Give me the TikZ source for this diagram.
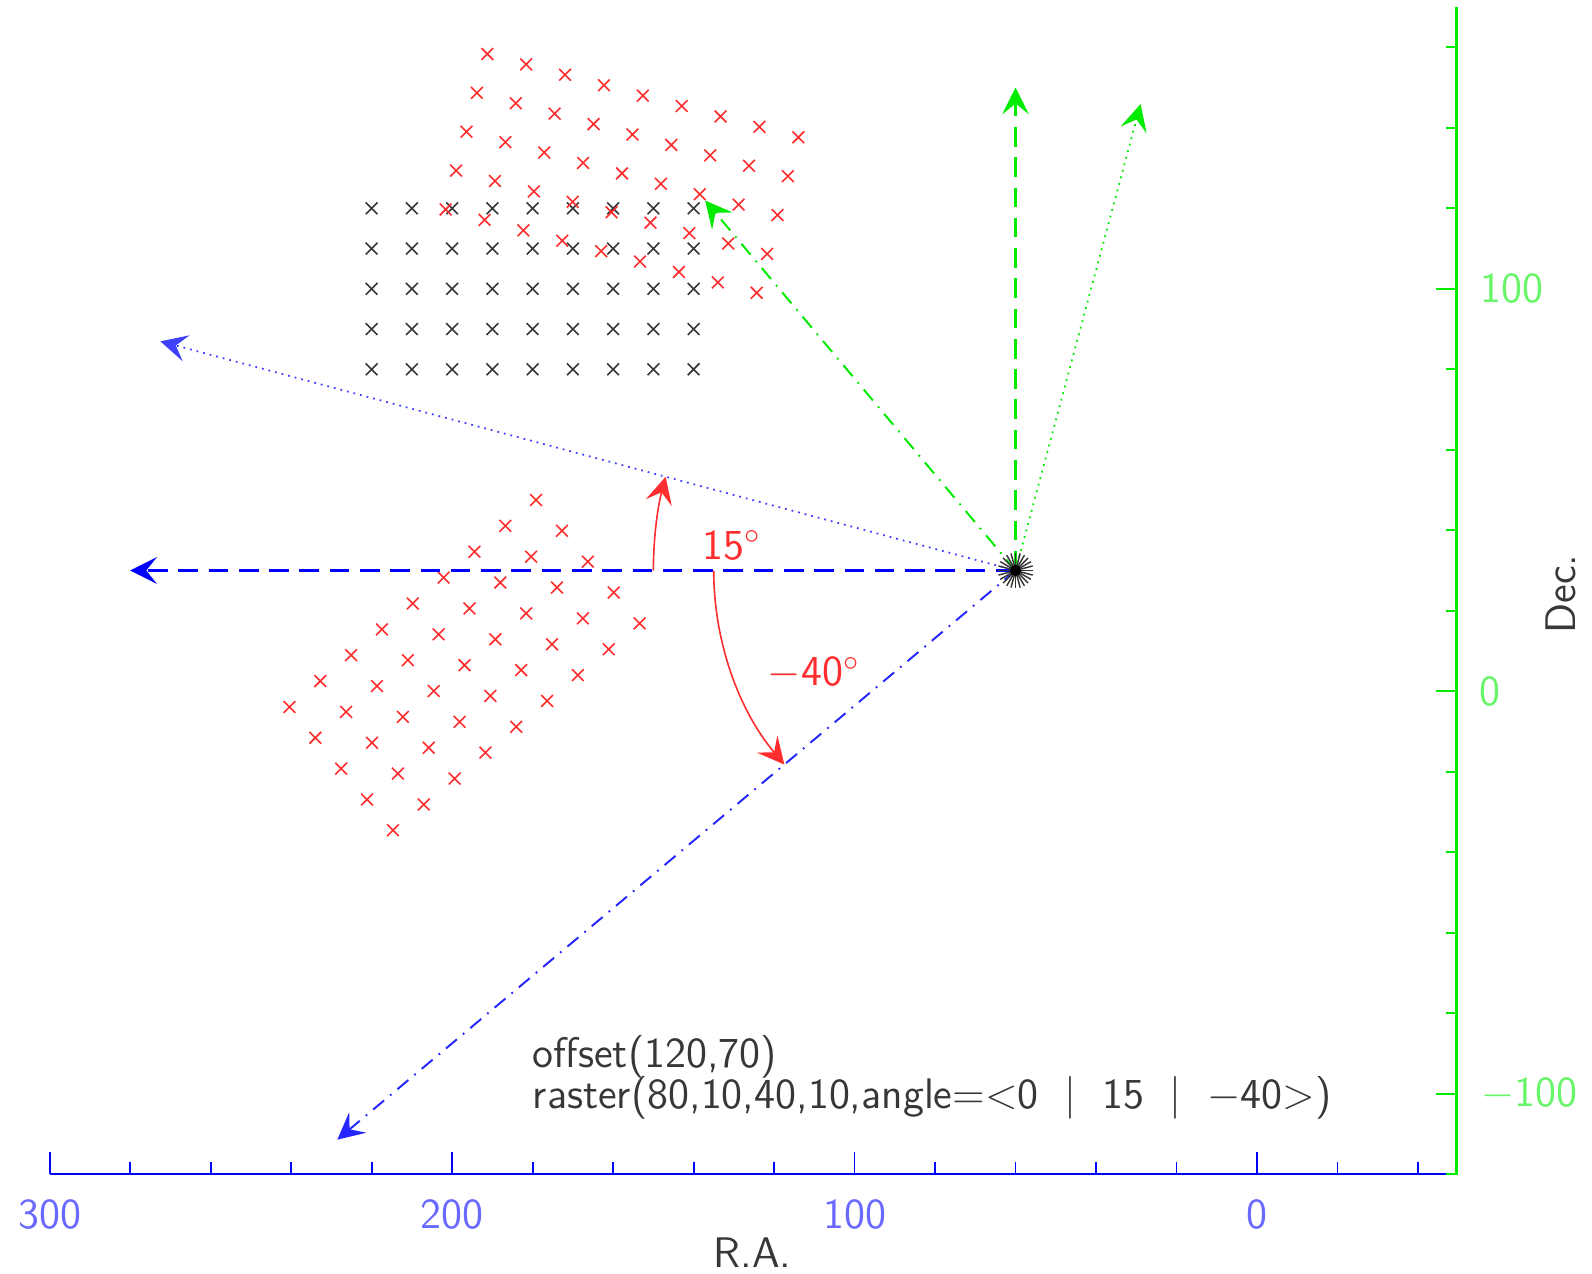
\documentclass[tikz,border=0pt]{standalone}
\usepackage{amsmath}
\usepackage{tikz}
\usetikzlibrary{arrows.meta,calc,shapes.misc}
\definecolor{raBlue}{RGB}{0,0,255}
\definecolor{raLabel}{RGB}{105,105,255}
\definecolor{decGreen}{RGB}{0,235,0}
\definecolor{decLabel}{RGB}{105,245,105}
\definecolor{rasterRed}{RGB}{255,45,45}
\definecolor{gridGray}{RGB}{55,55,55}

\begin{document}
\begin{tikzpicture}[x=0.0397cm,y=0.0397cm,font=\sffamily\fontsize{12}{14}\selectfont,
  crs/.style={cross out,draw,minimum size=0.1cm,inner sep=0pt,line width=0.45pt},
  vec/.style={-{Stealth[length=7.5pt,width=7.5pt,inset=3pt]}},
  dashln/.style={dash pattern=on 5.5pt off 3pt,line width=0.7pt},
  dotln/.style={dash pattern=on 0.5pt off 1.4pt,line width=0.5pt},
  dashdotln/.style={dash pattern=on 4pt off 2.2pt on 0.5pt off 2.2pt,line width=0.55pt},
  lbl/.style={inner sep=0pt}]
  \useasboundingbox (-312.34,-144.77) rectangle (83.22,171.75);

  % axes
  \draw[raBlue,line width=0.7pt] (-300,-120) -- (46.9,-120);
  \draw[decGreen,line width=0.7pt] (46.9,-120) -- (49.5,-120) -- (49.5,170);
  \foreach \x in {-300,-200,-100,0}
    \draw[raBlue,line width=0.5pt] (\x,-120) -- ++(0,5.5);
  \foreach \x in {-280,-260,-240,-220,-180,-160,-140,-120,-80,-60,-40,-20,20,40}
    \draw[raBlue,line width=0.5pt] (\x,-120) -- ++(0,3);
  \foreach \y in {100,0,-100}
    \draw[decGreen,line width=0.5pt] (49.5,\y) -- ++(-5,0);
  \foreach \y in {160,140,120,80,60,40,20,-20,-40,-60,-80}
    \draw[decGreen,line width=0.5pt] (49.5,\y) -- ++(-2.5,0);

  \node[lbl,text=raLabel] (ra300) at (-300,-130.1) {300};
  \node[lbl,text=raLabel] (ra200) at (-200,-130.1) {200};
  \node[lbl,text=raLabel] (ra100) at (-100,-130.1) {100};
  \node[lbl,text=raLabel] (ra000) at (0,-130.1) {0};
  \node[lbl,text=gridGray] (raname) at (-125.4,-139.6) {R.A.};
  \node[lbl,text=decLabel,anchor=west] (dec100) at (55.4,100) {100};
  \node[lbl,text=decLabel,anchor=west] (dec000) at (55.2,0) {0};
  \node[lbl,text=decLabel,anchor=west] (decM100) at (55.6,-100) {$-$100};
  \node[lbl,text=gridGray,rotate=90] (decname) at (75.6,24.2) {Dec.};

  % rasters: reference (0) and rotated (15, -40)
  \coordinate (O) at (-60,30);
  \foreach \ang/\col in {0/gridGray,15/rasterRed,-40/rasterRed}{
    \begin{scope}[shift={(-60,30)},rotate=-\ang]
      \foreach \a in {80,90,...,160}
        \foreach \b in {50,60,...,90}
          \node[crs,\col] (r\ang-\a-\b) at (-\a,\b) {};
    \end{scope}
  }

  % frame vectors
  \path (O) ++(180:220) coordinate (raA) (O) ++(165:220) coordinate (raB)
        (O) ++(220:220) coordinate (raC);
  \path (O) ++(90:120) coordinate (decA) (O) ++(75:120) coordinate (decB)
        (O) ++(130:120) coordinate (decC);
  \draw[vec,dashln,raBlue] (O) -- (raA);
  \draw[vec,dotln,raBlue!75] (O) -- (raB);
  \draw[vec,dashdotln,raBlue!85] (O) -- (raC);
  \draw[vec,dashln,decGreen] (O) -- (decA);
  \draw[vec,dotln,decGreen] (O) -- (decB);
  \draw[vec,dashdotln,decGreen] (O) -- (decC);

  % angle arcs
  \path (O) ++(180:90) coordinate (arcA) (O) ++(180:75) coordinate (arcB);
  \draw[vec,rasterRed,line width=0.45pt] (arcA) arc[start angle=180,end angle=165,radius=90];
  \draw[vec,rasterRed,line width=0.45pt] (arcB) arc[start angle=180,end angle=220,radius=75];
  \node[lbl,text=rasterRed] (ang15) at (-130.5,36.3) {15$^\circ$};
  \node[lbl,text=rasterRed] (angM40) at (-110.1,4.5) {$-$40$^\circ$};

  % origin star
  \foreach \s in {0,15,...,345}
    \draw[black!80,line width=0.4pt] (O) -- ++(\s:4.4);
  \fill[black] (O) circle (1.4);

  % caption
  \node[lbl,text=gridGray,anchor=base west] (offs) at (-180.1,-93.6) {offset(120,70)};
  \node[lbl,text=gridGray,anchor=base west] (rast) at (-180.1,-103.7)
    {raster(80,10,40,10,angle=<0 \;|\; 15 \;|\; $-$40>)};
\end{tikzpicture}
\end{document}
